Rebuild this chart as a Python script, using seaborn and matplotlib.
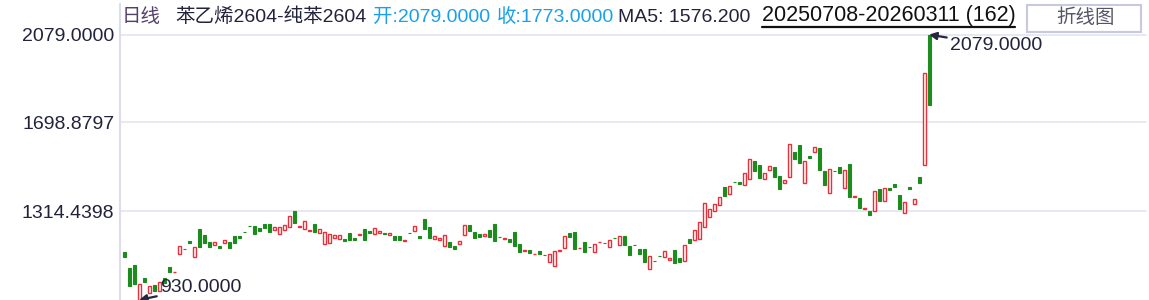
import numpy as np
import pandas as pd
import matplotlib
matplotlib.use("Agg")
import matplotlib.pyplot as plt
from matplotlib.lines import Line2D
from matplotlib.patches import Rectangle
import seaborn as sns

# ---- data ----
opens = [1136, 1070, 1080, 930, 1024, 962, 995, 970, 1024, 1072,
         1051, 1128, 1151, 1185, 1117, 1236, 1211, 1180, 1169, 1164,
         1175, 1181, 1207, 1207, 1226, 1252, 1250, 1242, 1259, 1259,
         1234, 1217, 1233, 1247, 1315, 1248, 1236, 1230, 1259, 1221,
         1171, 1175, 1200, 1195, 1194, 1220, 1198, 1213, 1237, 1229,
         1214, 1221, 1220, 1210, 1207, 1207, 1187, 1222, 1230, 1207,
         1281, 1247, 1195, 1190, 1165, 1181, 1164, 1174, 1213, 1255,
         1224, 1216, 1208, 1233, 1259, 1203, 1196, 1194, 1224, 1172,
         1144, 1147, 1127, 1142, 1125, 1096, 1079, 1144, 1156, 1220,
         1224, 1153, 1181, 1160, 1139, 1179, 1177, 1161, 1199, 1166,
         1207, 1164, 1168, 1151, 1151, 1066, 1099, 1120, 1117, 1104,
         1147, 1112, 1100, 1194, 1188, 1195, 1245, 1291, 1317, 1343,
         1419, 1390, 1441, 1441, 1429, 1455, 1532, 1514, 1453, 1491,
         1506, 1467, 1438, 1464, 1571, 1601, 1438, 1555, 1569, 1588,
         1488, 1395, 1489, 1506, 1416, 1519, 1378, 1372, 1326, 1315,
         1317, 1409, 1360, 1414, 1431, 1385, 1308, 1418, 1347, 1463,
         1516, 2079]
closes = [1117, 992, 998, 998, 1009, 991, 969, 1008, 1005, 1053,
          1053, 1164, 1149, 1177, 1158, 1161, 1178, 1161, 1180, 1156,
          1188, 1156, 1178, 1198, 1224, 1250, 1217, 1230, 1242, 1223,
          1245, 1245, 1253, 1294, 1265, 1250, 1271, 1232, 1224, 1236,
          1223, 1214, 1210, 1210, 1187, 1191, 1191, 1215, 1191, 1220,
          1240, 1227, 1217, 1220, 1191, 1191, 1189, 1220, 1249, 1200,
          1239, 1200, 1207, 1198, 1211, 1161, 1151, 1185, 1255, 1229,
          1200, 1203, 1216, 1203, 1185, 1201, 1197, 1181, 1164, 1139,
          1145, 1134, 1128, 1129, 1123, 1129, 1142, 1145, 1207, 1203,
          1151, 1154, 1139, 1158, 1172, 1180, 1175, 1190, 1197, 1207,
          1169, 1125, 1167, 1130, 1096, 1121, 1098, 1119, 1142, 1112,
          1091, 1096, 1167, 1177, 1233, 1268, 1350, 1323, 1346, 1375,
          1382, 1422, 1440, 1434, 1480, 1539, 1490, 1459, 1480, 1509,
          1464, 1412, 1450, 1605, 1540, 1524, 1532, 1546, 1592, 1494,
          1428, 1497, 1487, 1481, 1493, 1377, 1379, 1330, 1327, 1299,
          1401, 1360, 1414, 1405, 1420, 1325, 1354, 1410, 1367, 1437,
          1913, 1773]
tick_values = [1314.4398, 1698.8797, 2079.0]
tick_labels = ["1314.4398", "1698.8797", "2079.0000"]
y_min, y_max = 930.0, 2079.0
title_parts = ["日线", "苯乙烯2604-纯苯2604", "开:2079.0000", "收:1773.0000", "MA5: 1576.200"]
date_range = "20250708-20260311 (162)"
button_label = "折线图"

# ---- style ----
sns.set_theme(style="white")
FONTS = ["Liberation Sans", "Noto Sans CJK SC", "DejaVu Sans"]
plt.rcParams["font.family"] = FONTS

RED = "#e8303a"
GREEN = "#1c8c1f"
TXT = "#22223a"
BLUE = "#1aa0ea"
GRID = "#e6e6f2"

W, H = 1149, 300
fig = plt.figure(figsize=(W / 100, H / 100), dpi=100)
fig.patch.set_facecolor("white")

def fx(px):
    return px / W

def fy(py):
    return 1 - py / H

ax_top = 34.6
ax = fig.add_axes([fx(120), 0, fx(1146) - fx(120), 1 - ax_top / H])
ax.set_facecolor("white")

df = pd.DataFrame({"idx": np.arange(len(opens)), "open": opens, "close": closes})
df["up"] = df["close"] >= df["open"]
df["lo"] = df[["open", "close"]].min(axis=1)
df["hgt"] = (df["close"] - df["open"]).abs().clip(lower=0.8)

up = df[df["up"]]
dn = df[~df["up"]]
bw = 0.6
ax.bar(up["idx"], up["hgt"], bottom=up["lo"], width=bw, facecolor="white",
       edgecolor=RED, linewidth=1.0, zorder=3)
ax.bar(dn["idx"], dn["hgt"], bottom=dn["lo"], width=bw, facecolor=GREEN,
       edgecolor=GREEN, linewidth=0.8, zorder=3)

ax.set_xlim(-0.8, 204.4)
ax.set_ylim(y_min, y_max)
for v in tick_values:
    ax.axhline(v, color=GRID, lw=1.3, zorder=0, clip_on=False)
ax.set_yticks(tick_values)
ax.set_yticklabels(tick_labels, fontsize=14, color=TXT)
ax.tick_params(axis="y", length=0, pad=4)
ax.set_xticks([])
for s in ax.spines.values():
    s.set_visible(False)

# min / max annotations
imax = int(np.argmax(np.maximum(opens, closes)))
imin = int(np.argmin(np.minimum(opens, closes)))
vmax = max(opens[imax], closes[imax])
vmin = min(opens[imin], closes[imin])
ax.annotate(f"{vmax:.4f}", xy=(imax, vmax), xytext=(21, -11), textcoords="offset pixels",
            ha="left", va="center", fontsize=14, color=TXT, annotation_clip=False,
            arrowprops=dict(arrowstyle="-|>", color="#26263e", lw=1.6,
                            shrinkA=0, shrinkB=0, mutation_scale=11), zorder=5)
ax.annotate(f"{vmin:.4f}", xy=(imin, vmin), xytext=(21, 13), textcoords="offset pixels",
            ha="left", va="center", fontsize=14, color=TXT, annotation_clip=False,
            arrowprops=dict(arrowstyle="-|>", color="#26263e", lw=1.6,
                            shrinkA=0, shrinkB=0, mutation_scale=11), zorder=5)

# left divider line spanning header
fig.add_artist(Line2D([fx(120), fx(120)], [fy(4), fy(300)], color="#dcdcec", lw=1.5))

# header texts
hy = fy(17)
fig.text(fx(122), hy, title_parts[0], fontsize=14, color="#55406e", va="center", ha="left")
fig.text(fx(175), hy, title_parts[1], fontsize=14, color=TXT, va="center", ha="left")
fig.text(fx(373), hy, title_parts[2], fontsize=14, color=BLUE, va="center", ha="left")
fig.text(fx(497), hy, title_parts[3], fontsize=14, color=BLUE, va="center", ha="left")
fig.text(fx(618), hy, title_parts[4], fontsize=14, color=TXT, va="center", ha="left")
fig.text(fx(762), fy(16), date_range, fontsize=15.5, color="#111111", va="center", ha="left")
fig.add_artist(Line2D([fx(762), fx(1015)], [fy(27), fy(27)], color="#111111", lw=1.6))

# button
fig.add_artist(Rectangle((fx(1027), fy(32)), fx(1141) - fx(1027), fy(5) - fy(32),
                         facecolor="white", edgecolor="#c8c8de", lw=1.5,
                         transform=fig.transFigure))
fig.text(fx(1086), fy(18), button_label, fontsize=14, color="#555566", va="center", ha="center")

fig.savefig("out.png", dpi=100, facecolor="white")
